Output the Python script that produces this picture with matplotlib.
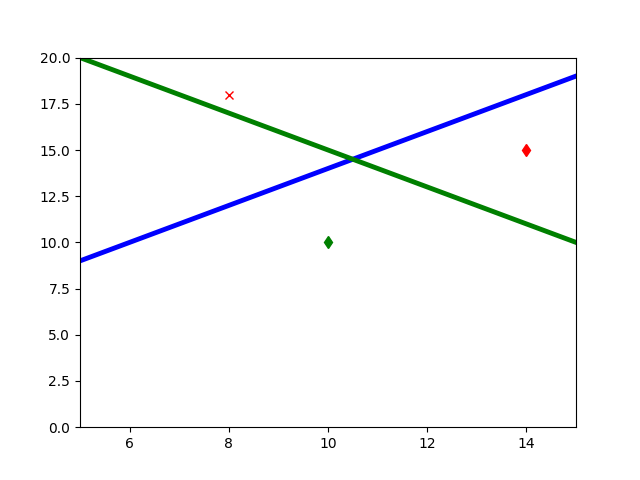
import matplotlib
matplotlib.use('Agg')
import matplotlib.pyplot as plt

x_line = [5, 15]
blue_y = [9, 19]
green_y = [20, 10]

pts_x = [8, 10, 14]
pts_y = [18, 10, 15]

fig, ax = plt.subplots(figsize=(6.4, 4.8), dpi=100)

ax.plot(x_line, blue_y, color='blue', linewidth=3.5)
ax.plot(x_line, green_y, color='green', linewidth=3.5)

ax.plot(pts_x[0], pts_y[0], 'rx')
ax.plot(pts_x[1], pts_y[1], 'gd')
ax.plot(pts_x[2], pts_y[2], 'rd')

ax.set_xlim(5, 15)
ax.set_ylim(0, 20)

fig.savefig('out.png')
